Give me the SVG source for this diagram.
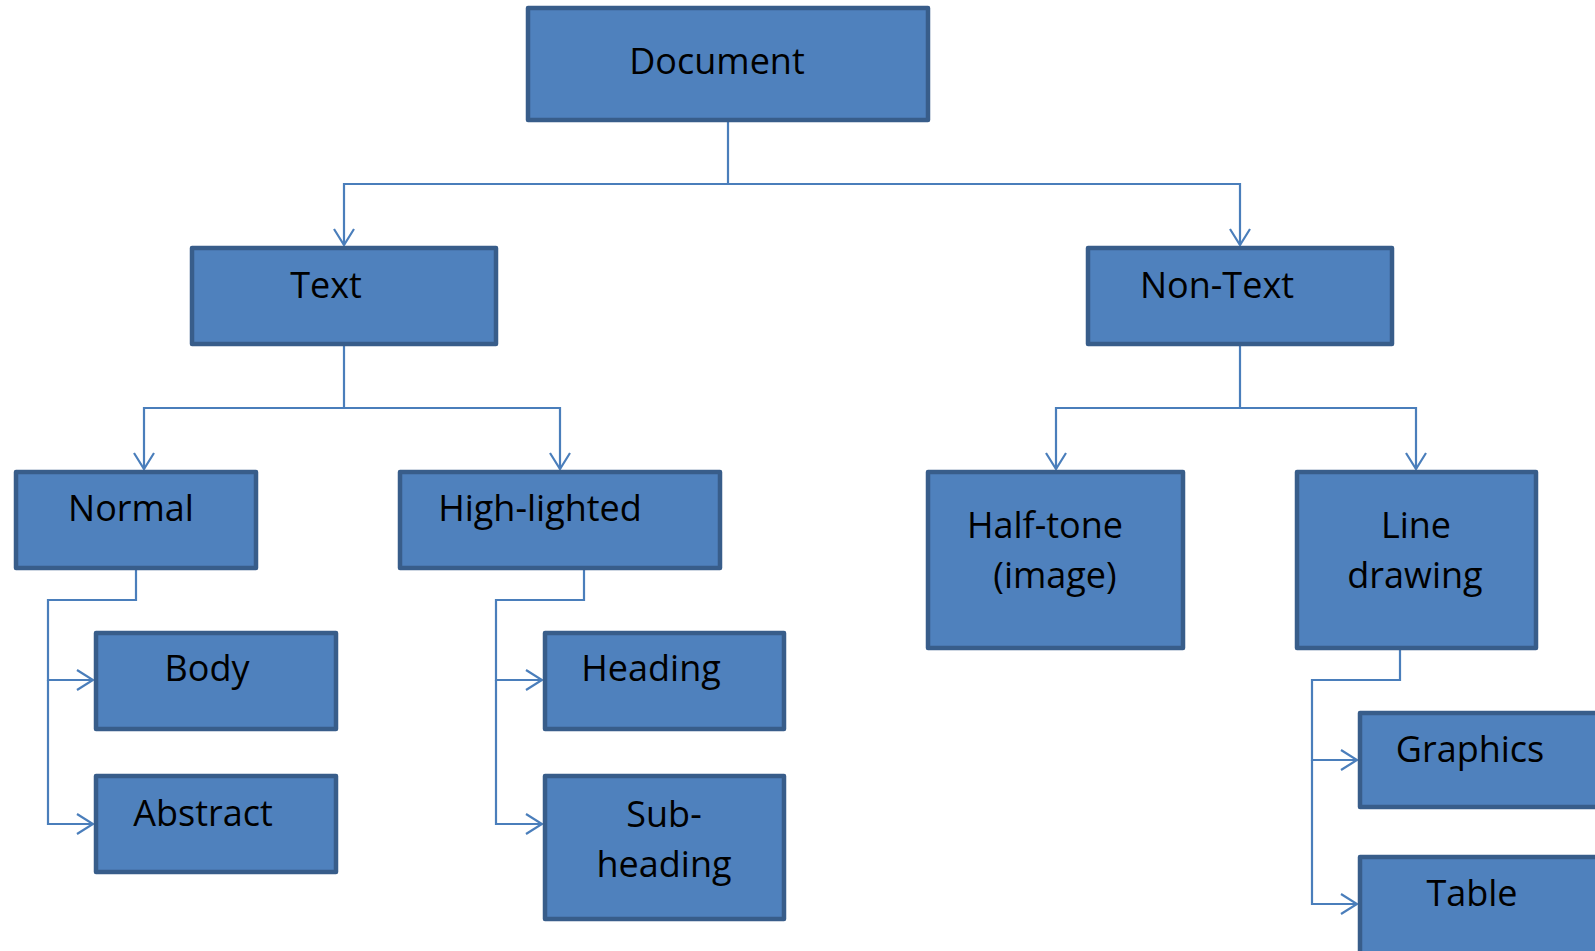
<svg xmlns="http://www.w3.org/2000/svg" width="1595" height="951" viewBox="0 0 1595 951">
<style>
.box{fill:#4F81BD;stroke:#385D8A;stroke-width:4.5;stroke-linejoin:round}
.lbl{font-family:"Open Sans","Noto Sans",sans-serif;font-size:36px;fill:#000;text-anchor:middle}
.con{fill:none;stroke:#4A7EBB;stroke-width:2.2}
</style>
<defs>
<marker id="arr" markerUnits="userSpaceOnUse" viewBox="-18 -12 20 24" markerWidth="20" markerHeight="24" refX="0" refY="0" orient="auto">
<path d="M-16,-10 L0,0 L-16,10" fill="none" stroke="#4A7EBB" stroke-width="2.2"/>
</marker>
</defs>
<rect width="1595" height="951" fill="#fff"/>
<g id="connectors">
<path class="con" d="M728,122 V184 H344 V245" marker-end="url(#arr)"/>
<path class="con" d="M728,184 H1240 V245" marker-end="url(#arr)"/>
<path class="con" d="M344,346 V408 H144 V469" marker-end="url(#arr)"/>
<path class="con" d="M344,408 H560 V469" marker-end="url(#arr)"/>
<path class="con" d="M1240,346 V408 H1056 V469" marker-end="url(#arr)"/>
<path class="con" d="M1240,408 H1416 V469" marker-end="url(#arr)"/>
<path class="con" d="M136,570 V600 H48 V680 H93" marker-end="url(#arr)"/>
<path class="con" d="M48,680 V824 H93" marker-end="url(#arr)"/>
<path class="con" d="M584,570 V600 H496 V680 H542" marker-end="url(#arr)"/>
<path class="con" d="M496,680 V824 H542" marker-end="url(#arr)"/>
<path class="con" d="M1400,650 V680 H1312 V760 H1357" marker-end="url(#arr)"/>
<path class="con" d="M1312,760 V904 H1357" marker-end="url(#arr)"/>
</g>
<g id="document"><rect class="box" x="528" y="8" width="400" height="112"/><text class="lbl" x="717" y="74">Document</text></g>
<g id="text"><rect class="box" x="192" y="248" width="304" height="96"/><text class="lbl" x="326" y="298">Text</text></g>
<g id="non-text"><rect class="box" x="1088" y="248" width="304" height="96"/><text class="lbl" x="1217" y="298">Non-Text</text></g>
<g id="normal"><rect class="box" x="16" y="472" width="240" height="96"/><text class="lbl" x="131" y="521">Normal</text></g>
<g id="high-lighted"><rect class="box" x="400" y="472" width="320" height="96"/><text class="lbl" x="540" y="521">High-lighted</text></g>
<g id="half-tone"><rect class="box" x="928" y="472" width="255" height="176"/><text class="lbl" x="1045" y="538">Half-tone</text><text class="lbl" x="1055" y="588">(image)</text></g>
<g id="line-drawing"><rect class="box" x="1297" y="472" width="239" height="176"/><text class="lbl" x="1416" y="538">Line</text><text class="lbl" x="1415" y="588">drawing</text></g>
<g id="body"><rect class="box" x="96" y="633" width="240" height="96"/><text class="lbl" x="207" y="681">Body</text></g>
<g id="abstract"><rect class="box" x="96" y="776" width="240" height="96"/><text class="lbl" x="203" y="826">Abstract</text></g>
<g id="heading"><rect class="box" x="545" y="633" width="239" height="96"/><text class="lbl" x="651" y="681">Heading</text></g>
<g id="sub-heading"><rect class="box" x="545" y="776" width="239" height="143"/><text class="lbl" x="664" y="827">Sub-</text><text class="lbl" x="664" y="877">heading</text></g>
<g id="graphics"><rect class="box" x="1360" y="713" width="260" height="94"/><text class="lbl" x="1470" y="762">Graphics</text></g>
<g id="table"><rect class="box" x="1360" y="857" width="260" height="120"/><text class="lbl" x="1472" y="906">Table</text></g>
</svg>
